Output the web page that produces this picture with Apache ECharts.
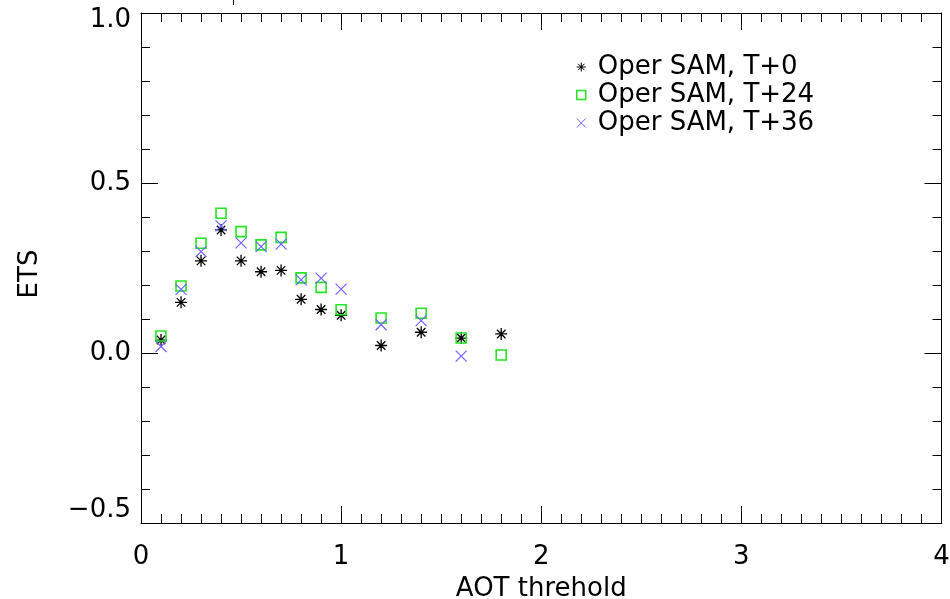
<!DOCTYPE html>
<html>
<head>
<meta charset="utf-8">
<script src="https://cdn.jsdelivr.net/npm/echarts@6/dist/echarts.min.js"></script>
<style>
html,body{margin:0;padding:0;background:#fff;}
#chart{width:950px;height:599px;}
</style>
</head>
<body>
<div id="chart"></div>
<script>
// AOT thresholds
const thresholds = [0.1, 0.2, 0.3, 0.4, 0.5, 0.6, 0.7, 0.8, 0.9, 1.0, 1.2, 1.4, 1.6, 1.8];
// ETS values per forecast step
const etsT0  = [0.038, 0.149, 0.271, 0.362, 0.271, 0.239, 0.243, 0.158, 0.128, 0.111, 0.022, 0.061, 0.044, 0.056];
const etsT24 = [0.050, 0.197, 0.323, 0.411, 0.357, 0.318, 0.340, 0.221, 0.193, 0.127, 0.103, 0.117, 0.044, -0.006];
const etsT36 = [0.019, 0.187, 0.298, 0.374, 0.324, 0.313, 0.320, 0.215, 0.220, 0.188, 0.083, 0.095, -0.009, null];
const seriesNames = ['Oper SAM, T+0', 'Oper SAM, T+24', 'Oper SAM, T+36'];
const xTicks = [0, 1, 2, 3, 4];
const yTicks = [-0.5, 0.0, 0.5, 1.0];

const FONT = "'DejaVu Sans', 'Liberation Sans', sans-serif";
const C_T0 = '#000000', C_T24 = '#22e622', C_T36 = '#6e64ff';
const STAR = 'path://M0,5L10,5M5,0L5,10M1.46,1.46L8.54,8.54M1.46,8.54L8.54,1.46M4.3,4.3L5.7,4.3L5.7,5.7L4.3,5.7Z';
const CROSS = 'path://M0,0L10,10M0,10L10,0';

function pairs(xs, ys) {
  const out = [];
  for (let i = 0; i < xs.length; i++) if (ys[i] !== null && ys[i] !== undefined) out.push([xs[i], ys[i]]);
  return out;
}

const chart = echarts.init(document.getElementById('chart'), null, {renderer: 'canvas'});

const axisLine = {show: true, onZero: false, lineStyle: {color: '#000', width: 1}};
const tickStyle = {color: '#000', width: 1};

function xAxisCfg(pos, labels) {
  return {
    type: 'value', position: pos, min: xTicks[0], max: xTicks[xTicks.length - 1], interval: 1,
    axisLine: axisLine,
    axisTick: {show: true, inside: true, length: 17, lineStyle: tickStyle},
    minorTick: {show: true, splitNumber: 10, length: 9, lineStyle: tickStyle},
    splitLine: {show: false}, minorSplitLine: {show: false},
    axisLabel: {show: labels, color: '#000', fontFamily: FONT, fontSize: 26, margin: 21,
      formatter: v => String(v)},
    name: labels ? 'AOT threhold' : '', nameLocation: 'middle', nameGap: 53,
    nameTextStyle: {color: '#000', fontFamily: FONT, fontSize: 26}
  };
}
function yAxisCfg(pos, labels) {
  const yMin = yTicks[0], yMax = yTicks[yTicks.length - 1];
  return {
    type: 'value', position: pos, min: yMin, max: yMax, interval: 0.5,
    axisLine: axisLine,
    axisTick: {show: true, inside: true, length: 17, lineStyle: tickStyle},
    minorTick: {show: true, splitNumber: 5, length: 9, lineStyle: tickStyle},
    splitLine: {show: false}, minorSplitLine: {show: false},
    axisLabel: {show: labels, color: '#000', fontFamily: FONT, fontSize: 26, margin: 10,
      formatter: v => {
        const s = v.toFixed(1).replace('-', '\u2212');
        if (Math.abs(v - yMax) < 1e-9) return '{top|' + s + '}';
        if (Math.abs(v - yMin) < 1e-9) return '{bot|' + s + '}';
        return s;
      },
      rich: {
        top: {fontFamily: FONT, fontSize: 26, color: '#000', padding: [14, 0, 0, 0]},
        bot: {fontFamily: FONT, fontSize: 26, color: '#000', padding: [0, 0, 26, 0]}
      }},
    name: labels ? 'ETS' : '', nameLocation: 'middle', nameGap: 98, nameRotate: 90,
    nameTextStyle: {color: '#000', fontFamily: FONT, fontSize: 26, padding: [0, 12, 0, 0]}
  };
}

chart.setOption({
  backgroundColor: '#fff',
  animation: false,
  grid: {left: 141, right: 8.5, top: 13, bottom: 76, containLabel: false, outerBoundsMode: 'none'},
  xAxis: [xAxisCfg('bottom', true), xAxisCfg('top', false)],
  yAxis: [yAxisCfg('left', true), yAxisCfg('right', false)],
  legend: {
    orient: 'vertical', left: 571, top: 48, itemGap: 0, itemWidth: 9, itemHeight: 9,
    textStyle: {color: '#000', fontFamily: FONT, fontSize: 26, lineHeight: 28, padding: [0, 0, 0, 7]},
    data: [
      {name: seriesNames[0], icon: STAR, itemStyle: {color: C_T0, borderColor: C_T0, borderWidth: 1}},
      {name: seriesNames[1], icon: 'rect', itemStyle: {color: 'rgba(0,0,0,0)', borderColor: C_T24, borderWidth: 1.5}},
      {name: seriesNames[2], icon: CROSS, itemStyle: {color: 'rgba(0,0,0,0)', borderColor: C_T36, borderWidth: 1}}
    ]
  },
  graphic: [
    {type: 'line', silent: true, shape: {x1: 233.5, y1: 0, x2: 233.5, y2: 5}, style: {stroke: '#000', lineWidth: 1}}
  ],
  series: [
    {name: seriesNames[0], type: 'scatter', data: pairs(thresholds, etsT0), symbol: STAR, symbolSize: 12,
      itemStyle: {color: C_T0, borderColor: C_T0, borderWidth: 1.3, opacity: 1}},
    {name: seriesNames[1], type: 'scatter', data: pairs(thresholds, etsT24), symbol: 'rect', symbolSize: 10,
      itemStyle: {color: 'rgba(0,0,0,0)', borderColor: C_T24, borderWidth: 1.6, opacity: 1}},
    {name: seriesNames[2], type: 'scatter', data: pairs(thresholds, etsT36), symbol: CROSS, symbolSize: 11,
      itemStyle: {color: 'rgba(0,0,0,0)', borderColor: C_T36, borderWidth: 1.2, opacity: 1}}
  ]
});
</script>
</body>
</html>
